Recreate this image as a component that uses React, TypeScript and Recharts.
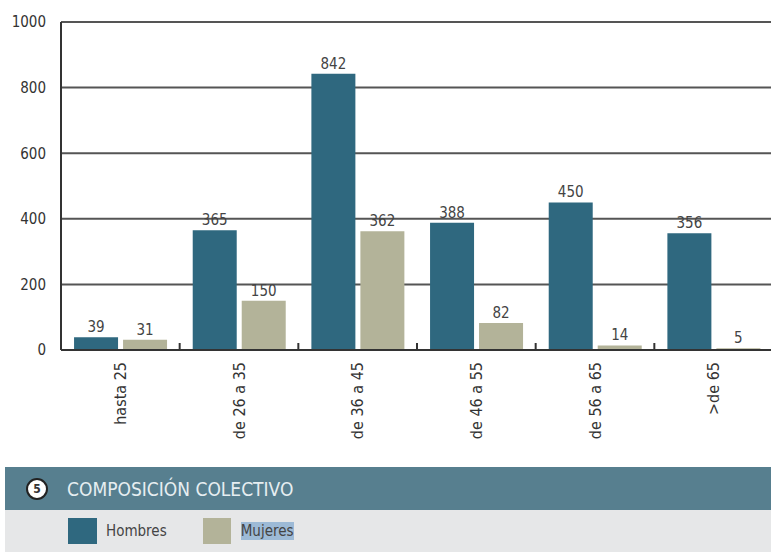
import { Bar, BarChart, CartesianGrid, LabelList, XAxis, YAxis } from "recharts";

const categories = ["hasta 25", "de 26 a 35", "de 36 a 45", "de 46 a 55", "de 56 a 65", ">de 65"];
const hombres = [39, 365, 842, 388, 450, 356];
const mujeres = [31, 150, 362, 82, 14, 5];
const yTicks = [0, 200, 400, 600, 800, 1000];

const data = categories.map((label, i) => ({ label, hombres: hombres[i], mujeres: mujeres[i] }));

const HOMBRES = "#2f687f";
const MUJERES = "#b3b399";
const FONT = "'Liberation Sans Narrow', 'DejaVu Sans Condensed', 'Liberation Sans', sans-serif";

function CategoryTick(props: any) {
  const { x, y, payload } = props;
  const half = payload.offset ?? 0;
  return (
    <g>
      <line x1={x + half} x2={x + half} y1={y - 15} y2={y - 7} stroke="#333" strokeWidth={2} />
      <text
        x={x}
        y={y + 4}
        transform={`rotate(-90, ${x}, ${y + 4})`}
        textAnchor="end"
        dominantBaseline="central"
        fontSize={16}
        fill="#333"
        fontFamily={FONT}
      >
        {payload.value}
      </text>
    </g>
  );
}

export default function App() {
  return (
    <div style={{ position: "absolute", left: 0, top: 0, width: 771, height: 554, background: "#fff", fontFamily: FONT, overflow: "hidden" }}>
      <BarChart
        width={773}
        height={460}
        data={data}
        margin={{ top: 22, right: 0, left: 0, bottom: 0 }}
        barCategoryGap="11%"
        barGap={5}
      >
        <CartesianGrid vertical={false} stroke="#555" strokeWidth={2} />
        <XAxis
          dataKey="label"
          height={110}
          interval={0}
          axisLine={{ stroke: "#333", strokeWidth: 2 }}
          tickLine={false}
          tick={<CategoryTick />}
        />
        <YAxis
          width={61}
          domain={[0, 1000]}
          ticks={yTicks}
          interval={0}
          axisLine={{ stroke: "#333", strokeWidth: 2 }}
          tickLine={false}
          tickMargin={9}
          tick={{ fontSize: 15, fill: "#333", fontFamily: FONT }}
        />
        <Bar dataKey="hombres" fill={HOMBRES} isAnimationActive={false}>
          <LabelList dataKey="hombres" position="top" offset={5} fontSize={15} fill="#444" fontFamily={FONT} />
        </Bar>
        <Bar dataKey="mujeres" fill={MUJERES} isAnimationActive={false}>
          <LabelList dataKey="mujeres" position="top" offset={5} fontSize={15} fill="#444" fontFamily={FONT} />
        </Bar>
      </BarChart>
      <div
        style={{
          position: "absolute",
          left: 5,
          top: 467,
          width: 766,
          height: 43,
          background: "#577f8f",
          display: "flex",
          alignItems: "center",
        }}
      >
        <div
          style={{
            marginLeft: 21,
            width: 18,
            height: 18,
            borderRadius: "50%",
            background: "#fff",
            border: "2px solid #222",
            display: "flex",
            alignItems: "center",
            justifyContent: "center",
            fontSize: 12,
            fontWeight: "bold",
            color: "#333",
          }}
        >
          5
        </div>
        <div style={{ marginLeft: 19, color: "#e6eef1", fontSize: 19 }}>COMPOSICIÓN COLECTIVO</div>
      </div>
      <div
        style={{
          position: "absolute",
          left: 5,
          top: 510,
          width: 766,
          height: 42,
          background: "#e6e7e8",
          display: "flex",
          alignItems: "center",
        }}
      >
        <div style={{ marginLeft: 63, width: 29, height: 26, background: HOMBRES }} />
        <span style={{ marginLeft: 9, fontSize: 15, color: "#444" }}>Hombres</span>
        <div style={{ marginLeft: 36, width: 28, height: 26, background: MUJERES }} />
        <span style={{ marginLeft: 10, fontSize: 15, color: "#444", background: "#9dbad6" }}>Mujeres</span>
      </div>
    </div>
  );
}
